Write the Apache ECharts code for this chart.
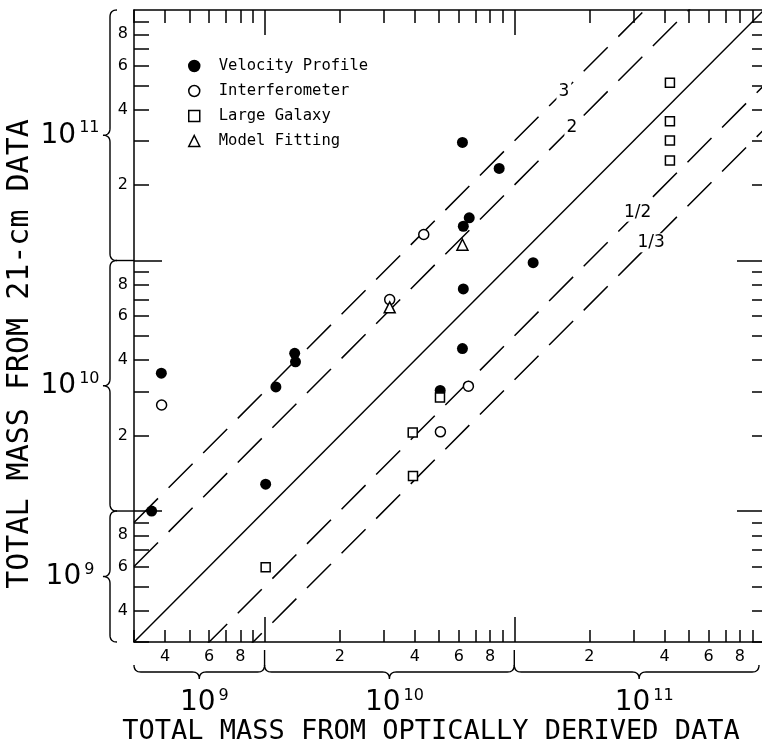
<!DOCTYPE html>
<html><head><meta charset="utf-8">
<script src="https://cdn.jsdelivr.net/npm/echarts@6/dist/echarts.min.js"></script>
<style>html,body{margin:0;padding:0;background:#fff}#c{width:762px;height:747px}</style>
</head><body><div id="c"></div>
<script>
// ---------- data ----------
const AXIS_MIN = 3e9;
const AXIS_MAX = 1e12;
const minorTickValues = [3e9,4e9,5e9,6e9,7e9,8e9,9e9,2e10,3e10,4e10,5e10,6e10,7e10,8e10,9e10,2e11,3e11,4e11,5e11,6e11,7e11,8e11,9e11];
const majorTickValues = [1e10, 1e11];
const tickLabelValues = [4e9,6e9,8e9,2e10,4e10,6e10,8e10,2e11,4e11,6e11,8e11];
const decadeEdges = [3e9, 1e10, 1e11, 1e12];
const decadeExponents = ['9', '10', '11'];

const velocityX = [3.86e9, 3.53e9, 1.11e10, 1.32e10, 1.33e10, 1.01e10, 6.2e10, 8.7e10, 6.6e10, 6.25e10, 1.19e11, 6.25e10, 6.2e10, 5.05e10];
const velocityY = [3.55e10, 1.0e10, 3.13e10, 4.26e10, 3.94e10, 1.28e10, 2.96e11, 2.33e11, 1.48e11, 1.37e11, 9.8e10, 7.7e10, 4.45e10, 3.03e10];
const interferometerX = [3.87e9, 4.34e10, 3.17e10, 6.55e10, 5.06e10];
const interferometerY = [2.65e10, 1.27e11, 6.98e10, 3.15e10, 2.07e10];
const largeGalaxyX = [4.2e11, 4.2e11, 4.2e11, 4.2e11, 5.04e10, 3.92e10, 3.93e10, 1.01e10];
const largeGalaxyY = [5.12e11, 3.6e11, 3.01e11, 2.51e11, 2.84e10, 2.06e10, 1.38e10, 5.97e9];
const modelFittingX = [6.2e10, 3.17e10];
const modelFittingY = [1.156e11, 6.5e10];

const ratios = [3, 2, 1, 0.5, 1/3];
const ratioLabelText = ['3', '2', '1/2', '1/3'];
const ratioLabelRatio = [3, 2, 0.5, 1/3];
const ratioLabelX = [1.58e11, 1.7e11, 3.12e11, 3.53e11];

// ---------- chart ----------
const SANS = "'DejaVu Sans', sans-serif";
const MONO = "'DejaVu Sans Mono', monospace";
const BLACK = '#000';
const pairs = (xs, ys) => xs.map((x, i) => [x, ys[i]]);
const mantissa = v => String(Math.round(v / Math.pow(10, Math.floor(Math.log10(v) + 1e-9))));

function logAxis(pos, tickLen, tickVals, showLine, extra) {
  return Object.assign({
    type: 'log', logBase: 10, min: AXIS_MIN, max: AXIS_MAX, position: pos,
    splitLine: {show: false}, minorTick: {show: false}, minorSplitLine: {show: false},
    axisLine: {show: showLine, onZero: false, lineStyle: {color: BLACK, width: 1.5}},
    axisTick: {show: true, inside: true, length: tickLen, customValues: tickVals, lineStyle: {color: BLACK, width: 1.5}},
    axisLabel: {show: false},
    axisPointer: {show: false}
  }, extra || {});
}

const labelStyle = (margin) => ({show: true, customValues: tickLabelValues, formatter: mantissa, color: BLACK, fontFamily: SANS, fontSize: 16, margin: margin});

const ratioLines = ratios.map(r => ({
  type: 'line', name: 'ratio ' + r, silent: true, symbol: 'none', clip: true, z: 1,
  data: [[AXIS_MIN, AXIS_MIN * r], [AXIS_MAX, AXIS_MAX * r]],
  lineStyle: {color: BLACK, width: 1.5, opacity: 1, type: r === 1 ? 'solid' : [34, 15]}
}));

const ratioLabelSeries = {
  type: 'scatter', name: 'ratio labels', silent: true, symbol: 'circle', symbolSize: 1, z: 3,
  itemStyle: {color: 'rgba(255,255,255,0)', opacity: 1},
  data: ratioLabelX.map((x, i) => ({value: [x, x * ratioLabelRatio[i]], label: {formatter: ratioLabelText[i]}})),
  label: {show: true, position: 'inside', color: BLACK, fontFamily: SANS, fontSize: 17, backgroundColor: '#fff', padding: [1, 2]}
};

const openStyle = {color: '#fff', borderColor: BLACK, borderWidth: 1.5, opacity: 1};
const option = {
  animation: false,
  backgroundColor: '#fff',
  textStyle: {fontFamily: SANS, color: BLACK},
  grid: {left: 134, top: 10, width: 630, height: 632, containLabel: false, outerBoundsMode: 'none'},
  legend: {
    data: ['Velocity Profile', 'Interferometer', 'Large Galaxy', 'Model Fitting'],
    orient: 'vertical', left: 188, top: 58, padding: 0, itemWidth: 11, itemHeight: 11, itemGap: 9,
    textStyle: {fontFamily: MONO, fontSize: 15.5, color: BLACK, padding: [0, 0, 0, 14]},
    itemStyle: {borderWidth: 1.5, opacity: 1}
  },
  xAxis: [
    logAxis('bottom', 12, minorTickValues, true, {
      axisLabel: labelStyle(7),
      name: 'TOTAL MASS FROM OPTICALLY DERIVED DATA', nameLocation: 'middle', nameGap: 76,
      nameTextStyle: {fontFamily: MONO, fontSize: 27, color: BLACK, padding: [0, 36, 0, 0]}
    }),
    logAxis('bottom', 25, majorTickValues, false),
    logAxis('top', 13, minorTickValues, true),
    logAxis('top', 25, majorTickValues, false)
  ],
  yAxis: [
    logAxis('left', 15, minorTickValues, true, {
      axisLabel: labelStyle(6),
      name: 'TOTAL MASS FROM 21-cm DATA', nameLocation: 'middle', nameGap: 99,
      nameTextStyle: {fontFamily: MONO, fontSize: 30, color: BLACK, padding: [0, 56, 0, 0]}
    }),
    logAxis('left', 28, majorTickValues, false),
    logAxis('right', 12, minorTickValues, true),
    logAxis('right', 27, majorTickValues, false)
  ],
  series: ratioLines.concat([
    ratioLabelSeries,
    {type: 'scatter', name: 'Velocity Profile', symbol: 'circle', symbolSize: 11, z: 5,
     itemStyle: {color: BLACK, borderColor: BLACK, borderWidth: 0, opacity: 1}, data: pairs(velocityX, velocityY)},
    {type: 'scatter', name: 'Interferometer', symbol: 'circle', symbolSize: 10, z: 5,
     itemStyle: openStyle, data: pairs(interferometerX, interferometerY)},
    {type: 'scatter', name: 'Large Galaxy', symbol: 'rect', symbolSize: 9, z: 5,
     itemStyle: openStyle, data: pairs(largeGalaxyX, largeGalaxyY)},
    {type: 'scatter', name: 'Model Fitting', symbol: 'triangle', symbolSize: 11, z: 5,
     itemStyle: openStyle, data: pairs(modelFittingX, modelFittingY)}
  ])
};

const chart = echarts.init(document.getElementById('c'), null, {renderer: 'canvas'});
chart.setOption(option);

// ---------- decade braces & labels, positioned via the axes ----------
const px = v => chart.convertToPixel({xAxisIndex: 0}, v);
const py = v => chart.convertToPixel({yAxisIndex: 0}, v);
const xAxisY = py(AXIS_MIN);
const yAxisX = px(AXIS_MIN);
const W = 762;
const D = 7;
const g = [];
const lineStyle = {fill: 'none', stroke: BLACK, lineWidth: 1.4};
const rich = {
  a: {fontFamily: SANS, fontSize: 28, fill: BLACK, lineHeight: 30},
  b: {fontFamily: SANS, fontSize: 16, fill: BLACK, verticalAlign: 'top', padding: [0, 0, 0, 3]}
};
function quad(p0, c, p1) {
  const out = [];
  for (let k = 0; k <= 8; k++) {
    const t = k / 8, u = 1 - t;
    out.push([u * u * p0[0] + 2 * u * t * c[0] + t * t * p1[0], u * u * p0[1] + 2 * u * t * c[1] + t * t * p1[1]]);
  }
  return out;
}
function bracePoints(a, b, m, pos, dir, horizontal) {
  const P = (s, t) => horizontal ? [s, t] : [t, s];
  const s1 = Math.sign(b - a);
  return [].concat(
    quad(P(a, pos - dir * D), P(a, pos), P(a + s1 * D, pos)),
    quad(P(m - s1 * D, pos), P(m, pos), P(m, pos + dir * D)),
    quad(P(m, pos + dir * D), P(m, pos), P(m + s1 * D, pos)),
    quad(P(b - s1 * D, pos), P(b, pos), P(b, pos - dir * D))
  );
}

// horizontal braces under x axis
const bY = xAxisY + 30;
for (let i = 0; i < decadeEdges.length - 1; i++) {
  const a = px(decadeEdges[i]);
  const b = Math.min(px(decadeEdges[i + 1]), W - 3);
  const m = (px(decadeEdges[i]) + px(decadeEdges[i + 1])) / 2;
  g.push({type: 'polyline', shape: {points: bracePoints(a, b, m, bY, 1, true)}, style: lineStyle, silent: true});
  g.push({type: 'text', x: m + 5, y: bY + 31, silent: true,
    style: {text: `{a|10}{b|${decadeExponents[i]}}`, rich: rich, align: 'center', verticalAlign: 'middle'}});
}
majorTickValues.forEach(v => {
  const x = px(v);
  g.push({type: 'line', shape: {x1: x, y1: xAxisY + 8, x2: x, y2: bY - D}, style: lineStyle, silent: true});
});

// vertical braces left of y axis
const bX = yAxisX - 24;
for (let i = 0; i < decadeEdges.length - 1; i++) {
  const a = py(decadeEdges[i + 1]);
  const b = py(decadeEdges[i]);
  const m = (a + b) / 2;
  g.push({type: 'polyline', shape: {points: bracePoints(a, b, m, bX, -1, false)}, style: lineStyle, silent: true});
  g.push({type: 'text', x: bX - 40, y: m, silent: true,
    style: {text: `{a|10}{b|${decadeExponents[i]}}`, rich: rich, align: 'center', verticalAlign: 'middle'}});
}
majorTickValues.forEach(v => {
  const y = py(v);
  g.push({type: 'line', shape: {x1: bX + D, y1: y, x2: yAxisX, y2: y}, style: lineStyle, silent: true});
});

chart.setOption({graphic: g});
</script></body></html>
